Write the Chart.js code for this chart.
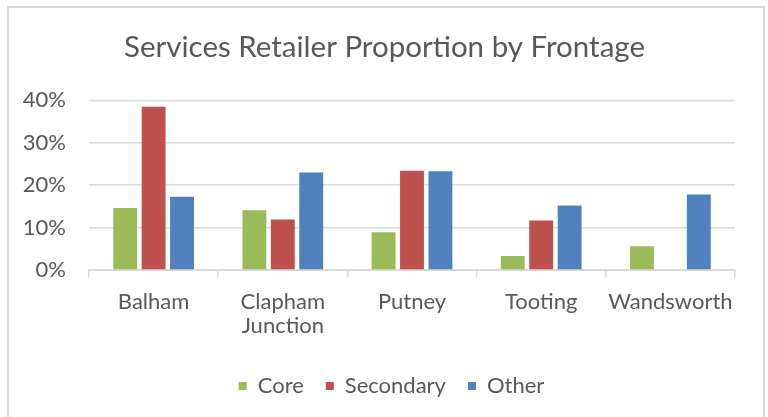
<!DOCTYPE html>
<html>
<head>
<meta charset="utf-8">
<script src="https://cdn.jsdelivr.net/npm/chart.js@4/dist/chart.umd.min.js"></script>
<style>
html,body{margin:0;padding:0;background:#fff;}
#wrap{position:relative;width:768px;height:417px;overflow:hidden;}
#frame{position:absolute;left:7px;top:6px;width:758px;height:430px;border:2px solid #D9D9D9;box-sizing:border-box;}
canvas{position:absolute;left:0;top:0;}
</style>
</head>
<body>
<div id="wrap">
<div id="frame"></div>
<canvas id="c" width="768" height="417"></canvas>
</div>
<script>
const categories = [["Balham"], ["Clapham", "Junction"], ["Putney"], ["Tooting"], ["Wandsworth"]];
const coreValues = [14.6, 14.1, 8.9, 3.3, 5.6];
const secondaryValues = [38.5, 11.9, 23.4, 11.7, 0];
const otherValues = [17.3, 23.0, 23.3, 15.2, 17.8];
const yTicks = [0, 10, 20, 30, 40];

const FONT = "Lato, 'Open Sans', sans-serif";
const TXT = '#595959';
const GRID = '#D9D9D9';

const shiftBoxes = {
  id: 'shiftBoxes',
  afterLayout(chart) {
    if (chart.legend) { chart.legend.left += 24; chart.legend.right += 24; }
    if (chart.titleBlock) { chart.titleBlock.left += 17; chart.titleBlock.right += 17; }
  }
};

new Chart(document.getElementById('c'), {
  type: 'bar',
  data: {
    labels: categories,
    datasets: [
      {label: 'Core', data: coreValues, backgroundColor: '#9BBB59'},
      {label: 'Secondary', data: secondaryValues, backgroundColor: '#C0504D'},
      {label: 'Other', data: otherValues, backgroundColor: '#4F81BD'}
    ]
  },
  plugins: [shiftBoxes],
  options: {
    responsive: false,
    animation: false,
    devicePixelRatio: 1,
    layout: {padding: {left: 0, right: 33, top: 0, bottom: 10}},
    datasets: {bar: {categoryPercentage: 0.66, barPercentage: 0.84}},
    plugins: {
      title: {
        display: true,
        text: 'Services Retailer Proportion by Frontage',
        color: TXT,
        font: {family: FONT, size: 29.5, weight: 'normal'},
        padding: {top: 30, bottom: 35}
      },
      legend: {
        position: 'bottom',
        labels: {
          color: TXT,
          font: {family: FONT, size: 22},
          boxWidth: 8, boxHeight: 8,
          padding: 22
        }
      },
      tooltip: {enabled: false}
    },
    scales: {
      x: {
        afterFit: s => { s.height = 83; },
        grid: {display: true, drawOnChartArea: false, drawTicks: true, tickLength: 7, color: GRID, lineWidth: 1.5},
        border: {display: true, color: GRID, width: 2},
        ticks: {color: TXT, font: {family: FONT, size: 22, lineHeight: 1.1}, padding: 13, maxRotation: 0}
      },
      y: {
        min: 0, max: 40,
        afterFit: s => { s.width = 89; },
        afterBuildTicks: s => { s.ticks = yTicks.map(v => ({value: v})); },
        grid: {color: GRID, lineWidth: 1.5, drawTicks: false},
        border: {display: false},
        ticks: {color: TXT, font: {family: FONT, size: 22}, padding: 23, callback: v => v + '%'}
      }
    }
  }
});
</script>
</body>
</html>
